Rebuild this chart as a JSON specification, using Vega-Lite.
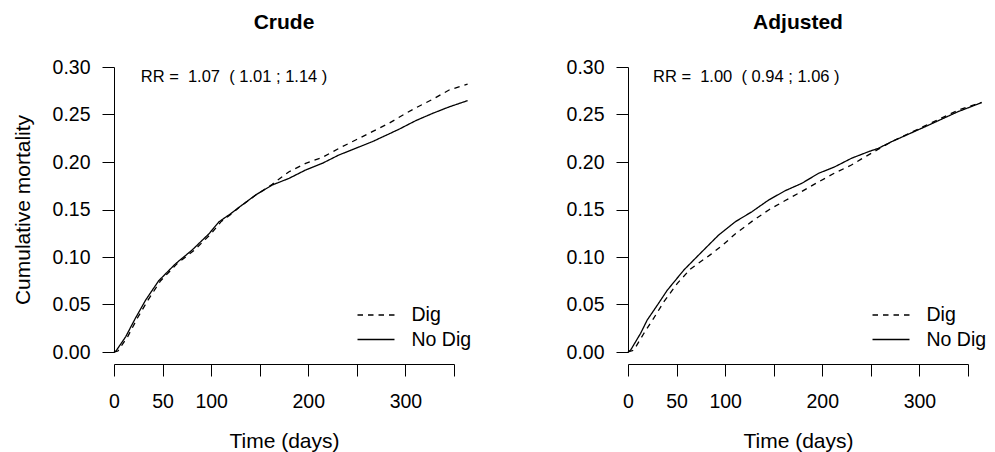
{
  "$schema": "https://vega.github.io/schema/vega-lite/v6.json",
  "padding": {"left": 12, "top": 12, "right": 5, "bottom": 5},
  "background": "white",
  "config": {
    "view": {"stroke": null},
    "font": "Liberation Sans",
    "axis": {
      "domainColor": "black", "domainWidth": 1, "tickColor": "black", "tickWidth": 1, "tickSize": 12,
      "labelColor": "black", "titleColor": "black", "grid": false,
      "labelFont": "Liberation Sans", "titleFont": "Liberation Sans",
      "labelFontSize": 19.5, "titleFontSize": 21, "titleFontWeight": "normal"
    },
    "title": {"font": "Liberation Sans", "fontSize": 21, "fontWeight": "bold", "color": "black", "offset": 24, "frame": "group", "anchor": "middle"},
    "legend": {
      "orient": "none", "title": null, "symbolType": "M-2,0H2", "symbolSize": 342,
      "symbolStrokeWidth": 1.3, "symbolStrokeColor": "black", "symbolFillColor": "transparent",
      "labelFont": "Liberation Sans", "labelFontSize": 19.5, "labelColor": "black",
      "labelOffset": 25.5, "rowPadding": 4.5, "padding": 0
    }
  },
  "datasets": {
    "curves": [
      {"panel": "Crude", "group": "No Dig", "day": 0, "cum": 0},
      {"panel": "Crude", "group": "No Dig", "day": 2, "cum": 0.001},
      {"panel": "Crude", "group": "No Dig", "day": 12, "cum": 0.016},
      {"panel": "Crude", "group": "No Dig", "day": 22, "cum": 0.0355},
      {"panel": "Crude", "group": "No Dig", "day": 32.6, "cum": 0.0547},
      {"panel": "Crude", "group": "No Dig", "day": 46, "cum": 0.075},
      {"panel": "Crude", "group": "No Dig", "day": 63.5, "cum": 0.093},
      {"panel": "Crude", "group": "No Dig", "day": 80.6, "cum": 0.1075},
      {"panel": "Crude", "group": "No Dig", "day": 97.8, "cum": 0.1245},
      {"panel": "Crude", "group": "No Dig", "day": 108, "cum": 0.137},
      {"panel": "Crude", "group": "No Dig", "day": 120, "cum": 0.1455},
      {"panel": "Crude", "group": "No Dig", "day": 128.7, "cum": 0.1523},
      {"panel": "Crude", "group": "No Dig", "day": 145.8, "cum": 0.1653},
      {"panel": "Crude", "group": "No Dig", "day": 163, "cum": 0.1758},
      {"panel": "Crude", "group": "No Dig", "day": 180.2, "cum": 0.1828},
      {"panel": "Crude", "group": "No Dig", "day": 197.3, "cum": 0.1916},
      {"panel": "Crude", "group": "No Dig", "day": 214.4, "cum": 0.1986},
      {"panel": "Crude", "group": "No Dig", "day": 231.6, "cum": 0.2074},
      {"panel": "Crude", "group": "No Dig", "day": 248.8, "cum": 0.2144},
      {"panel": "Crude", "group": "No Dig", "day": 265.9, "cum": 0.2214},
      {"panel": "Crude", "group": "No Dig", "day": 283, "cum": 0.2295},
      {"panel": "Crude", "group": "No Dig", "day": 293.4, "cum": 0.2345},
      {"panel": "Crude", "group": "No Dig", "day": 310.6, "cum": 0.2435},
      {"panel": "Crude", "group": "No Dig", "day": 328, "cum": 0.2512},
      {"panel": "Crude", "group": "No Dig", "day": 345, "cum": 0.258},
      {"panel": "Crude", "group": "No Dig", "day": 364, "cum": 0.2646},

      {"panel": "Crude", "group": "Dig", "day": 0, "cum": 0},
      {"panel": "Crude", "group": "Dig", "day": 4, "cum": 0.001},
      {"panel": "Crude", "group": "Dig", "day": 14, "cum": 0.016},
      {"panel": "Crude", "group": "Dig", "day": 24, "cum": 0.0355},
      {"panel": "Crude", "group": "Dig", "day": 35, "cum": 0.0547},
      {"panel": "Crude", "group": "Dig", "day": 48, "cum": 0.075},
      {"panel": "Crude", "group": "Dig", "day": 65, "cum": 0.093},
      {"panel": "Crude", "group": "Dig", "day": 83, "cum": 0.1075},
      {"panel": "Crude", "group": "Dig", "day": 100, "cum": 0.1245},
      {"panel": "Crude", "group": "Dig", "day": 110, "cum": 0.137},
      {"panel": "Crude", "group": "Dig", "day": 121, "cum": 0.1455},
      {"panel": "Crude", "group": "Dig", "day": 129, "cum": 0.1523},
      {"panel": "Crude", "group": "Dig", "day": 146, "cum": 0.1653},
      {"panel": "Crude", "group": "Dig", "day": 163, "cum": 0.1765},
      {"panel": "Crude", "group": "Dig", "day": 166.4, "cum": 0.1793},
      {"panel": "Crude", "group": "Dig", "day": 180.2, "cum": 0.1898},
      {"panel": "Crude", "group": "Dig", "day": 197.3, "cum": 0.1986},
      {"panel": "Crude", "group": "Dig", "day": 214.4, "cum": 0.2048},
      {"panel": "Crude", "group": "Dig", "day": 231.6, "cum": 0.2144},
      {"panel": "Crude", "group": "Dig", "day": 248.8, "cum": 0.2232},
      {"panel": "Crude", "group": "Dig", "day": 265.9, "cum": 0.2319},
      {"panel": "Crude", "group": "Dig", "day": 283, "cum": 0.2407},
      {"panel": "Crude", "group": "Dig", "day": 300, "cum": 0.251},
      {"panel": "Crude", "group": "Dig", "day": 310.6, "cum": 0.257},
      {"panel": "Crude", "group": "Dig", "day": 328, "cum": 0.266},
      {"panel": "Crude", "group": "Dig", "day": 345, "cum": 0.2758},
      {"panel": "Crude", "group": "Dig", "day": 364, "cum": 0.282},

      {"panel": "Adjusted", "group": "No Dig", "day": 0, "cum": 0},
      {"panel": "Adjusted", "group": "No Dig", "day": 2.7, "cum": 0.002},
      {"panel": "Adjusted", "group": "No Dig", "day": 13, "cum": 0.0197},
      {"panel": "Adjusted", "group": "No Dig", "day": 19.8, "cum": 0.0337},
      {"panel": "Adjusted", "group": "No Dig", "day": 30, "cum": 0.049},
      {"panel": "Adjusted", "group": "No Dig", "day": 40.4, "cum": 0.065},
      {"panel": "Adjusted", "group": "No Dig", "day": 57.5, "cum": 0.0863},
      {"panel": "Adjusted", "group": "No Dig", "day": 74.6, "cum": 0.104},
      {"panel": "Adjusted", "group": "No Dig", "day": 93.4, "cum": 0.1232},
      {"panel": "Adjusted", "group": "No Dig", "day": 110.6, "cum": 0.1372},
      {"panel": "Adjusted", "group": "No Dig", "day": 127.6, "cum": 0.1477},
      {"panel": "Adjusted", "group": "No Dig", "day": 144.8, "cum": 0.16},
      {"panel": "Adjusted", "group": "No Dig", "day": 161.9, "cum": 0.1698},
      {"panel": "Adjusted", "group": "No Dig", "day": 179, "cum": 0.1776},
      {"panel": "Adjusted", "group": "No Dig", "day": 196, "cum": 0.188},
      {"panel": "Adjusted", "group": "No Dig", "day": 213, "cum": 0.195},
      {"panel": "Adjusted", "group": "No Dig", "day": 230, "cum": 0.2039},
      {"panel": "Adjusted", "group": "No Dig", "day": 247.4, "cum": 0.2108},
      {"panel": "Adjusted", "group": "No Dig", "day": 257.7, "cum": 0.2144},
      {"panel": "Adjusted", "group": "No Dig", "day": 271.4, "cum": 0.2214},
      {"panel": "Adjusted", "group": "No Dig", "day": 305.6, "cum": 0.237},
      {"panel": "Adjusted", "group": "No Dig", "day": 339.8, "cum": 0.253},
      {"panel": "Adjusted", "group": "No Dig", "day": 364, "cum": 0.2625},

      {"panel": "Adjusted", "group": "Dig", "day": 0, "cum": 0},
      {"panel": "Adjusted", "group": "Dig", "day": 6, "cum": 0.002},
      {"panel": "Adjusted", "group": "Dig", "day": 16.4, "cum": 0.0197},
      {"panel": "Adjusted", "group": "Dig", "day": 26.7, "cum": 0.036},
      {"panel": "Adjusted", "group": "Dig", "day": 37, "cum": 0.053},
      {"panel": "Adjusted", "group": "Dig", "day": 50.6, "cum": 0.072},
      {"panel": "Adjusted", "group": "Dig", "day": 64.4, "cum": 0.0875},
      {"panel": "Adjusted", "group": "Dig", "day": 84.9, "cum": 0.1025},
      {"panel": "Adjusted", "group": "Dig", "day": 98.6, "cum": 0.1135},
      {"panel": "Adjusted", "group": "Dig", "day": 110.6, "cum": 0.1245},
      {"panel": "Adjusted", "group": "Dig", "day": 127.6, "cum": 0.1375},
      {"panel": "Adjusted", "group": "Dig", "day": 144.8, "cum": 0.1495},
      {"panel": "Adjusted", "group": "Dig", "day": 161.9, "cum": 0.1595},
      {"panel": "Adjusted", "group": "Dig", "day": 179, "cum": 0.169},
      {"panel": "Adjusted", "group": "Dig", "day": 196, "cum": 0.179},
      {"panel": "Adjusted", "group": "Dig", "day": 213, "cum": 0.1885},
      {"panel": "Adjusted", "group": "Dig", "day": 230, "cum": 0.1968},
      {"panel": "Adjusted", "group": "Dig", "day": 240, "cum": 0.203},
      {"panel": "Adjusted", "group": "Dig", "day": 257.7, "cum": 0.2135},
      {"panel": "Adjusted", "group": "Dig", "day": 271.4, "cum": 0.2214},
      {"panel": "Adjusted", "group": "Dig", "day": 305.6, "cum": 0.238},
      {"panel": "Adjusted", "group": "Dig", "day": 339.8, "cum": 0.2545},
      {"panel": "Adjusted", "group": "Dig", "day": 364, "cum": 0.2628}
    ]
  },
  "spacing": 174,
  "bounds": "flush",
  "resolve": {"legend": {"strokeDash": "independent"}},
  "hconcat": [
    {
      "width": 340, "height": 285,
      "title": "Crude",
      "layer": [
        {
          "data": {"name": "curves"},
          "transform": [{"filter": "datum.panel === 'Crude'"}],
          "mark": {"type": "line", "color": "black", "strokeWidth": 1.3, "clip": false},
          "encoding": {
            "x": {"field": "day", "type": "quantitative",
              "scale": {"domain": [0, 350], "nice": false, "zero": false},
              "axis": {"values": [0, 50, 100, 150, 200, 250, 300, 350],
                "labelExpr": "indexof([150, 250, 350], datum.value) >= 0 ? '' : datum.label",
                "offset": 12, "title": "Time (days)", "labelPadding": 16, "titlePadding": 20,
                "labelOverlap": false, "labelFlush": false}},
            "y": {"field": "cum", "type": "quantitative",
              "scale": {"domain": [0, 0.3], "nice": false},
              "axis": {"values": [0, 0.05, 0.1, 0.15, 0.2, 0.25, 0.3], "format": ".2f",
                "title": "Cumulative mortality", "labelPadding": 12, "titlePadding": 19}},
            "strokeDash": {"field": "group", "type": "nominal",
              "scale": {"domain": ["Dig", "No Dig"], "range": [[5.5, 5], [1, 0]]},
              "legend": {"legendX": 252, "legendY": 238}},
            "order": {"field": "day", "type": "quantitative"}
          }
        },
        {
          "data": {"values": [{"label": "RR = \u00a01.07 \u00a0( 1.01 ; 1.14 )"}]},
          "mark": {"type": "text", "align": "left", "baseline": "middle", "fontSize": 16.5, "font": "Liberation Sans", "color": "black"},
          "encoding": {"x": {"datum": 27.5}, "y": {"datum": 0.29}, "text": {"field": "label"}}
        }
      ]
    },
    {
      "width": 340, "height": 285,
      "title": "Adjusted",
      "layer": [
        {
          "data": {"name": "curves"},
          "transform": [{"filter": "datum.panel === 'Adjusted'"}],
          "mark": {"type": "line", "color": "black", "strokeWidth": 1.3, "clip": false},
          "encoding": {
            "x": {"field": "day", "type": "quantitative",
              "scale": {"domain": [0, 350], "nice": false, "zero": false},
              "axis": {"values": [0, 50, 100, 150, 200, 250, 300, 350],
                "labelExpr": "indexof([150, 250, 350], datum.value) >= 0 ? '' : datum.label",
                "offset": 12, "title": "Time (days)", "labelPadding": 16, "titlePadding": 20,
                "labelOverlap": false, "labelFlush": false}},
            "y": {"field": "cum", "type": "quantitative",
              "scale": {"domain": [0, 0.3], "nice": false},
              "axis": {"values": [0, 0.05, 0.1, 0.15, 0.2, 0.25, 0.3], "format": ".2f",
                "title": null, "labelPadding": 12}},
            "strokeDash": {"field": "group", "type": "nominal",
              "scale": {"domain": ["Dig", "No Dig"], "range": [[5.5, 5], [1, 0]]},
              "legend": {"legendX": 253, "legendY": 238}},
            "order": {"field": "day", "type": "quantitative"}
          }
        },
        {
          "data": {"values": [{"label": "RR = \u00a01.00 \u00a0( 0.94 ; 1.06 )"}]},
          "mark": {"type": "text", "align": "left", "baseline": "middle", "fontSize": 16.5, "font": "Liberation Sans", "color": "black"},
          "encoding": {"x": {"datum": 25.7}, "y": {"datum": 0.29}, "text": {"field": "label"}}
        }
      ]
    }
  ]
}
